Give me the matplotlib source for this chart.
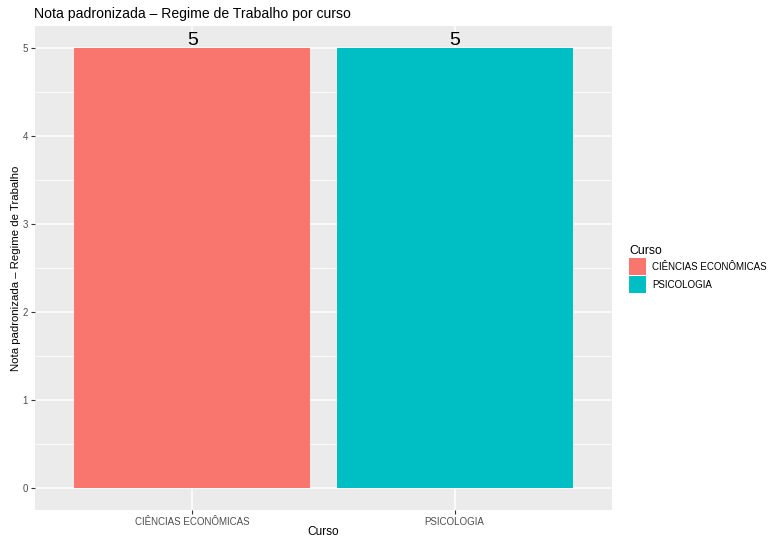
import matplotlib
matplotlib.use("Agg")
import matplotlib.pyplot as plt
from matplotlib.patches import Patch

plt.rcParams['font.family'] = ['Liberation Sans', 'DejaVu Sans']

cursos = ["CIÊNCIAS ECONÔMICAS", "PSICOLOGIA"]
notas = [5, 5]
cores = ["#F8766D", "#00BFC4"]
yticks = [0, 1, 2, 3, 4, 5]

fig = plt.figure(figsize=(7.71, 5.37), dpi=100)
ax = fig.add_axes([35 / 771, 27 / 537, 577 / 771, 484 / 537])
ax.set_facecolor("#EBEBEB")

xpos = list(range(1, len(cursos) + 1))
ax.bar(xpos, notas, width=0.9, color=cores, zorder=3)
for x, v in zip(xpos, notas):
    ax.annotate(str(v), (x, v), xytext=(0, -0.5), textcoords="offset points",
                ha="center", va="bottom", fontsize=14, color="black", zorder=4)

ax.set_xlim(0.4, len(cursos) + 0.6)
ax.set_ylim(-0.25, 5.25)
ax.set_xticks(xpos)
ax.set_xticklabels(cursos)
ax.set_yticks(yticks)
ax.set_yticks([y + 0.5 for y in yticks[:-1]], minor=True)
ax.grid(which="major", color="white", linewidth=1.1, zorder=0)
ax.grid(which="minor", axis="y", color="white", linewidth=0.55, zorder=0)
ax.set_axisbelow(True)
for s in ax.spines.values():
    s.set_visible(False)
ax.tick_params(axis="both", which="major", length=3, width=0.8, color="#333333",
               labelsize=7, labelcolor="#4D4D4D", pad=2)
ax.tick_params(axis="both", which="minor", length=0)

ax.set_xlabel("Curso", fontsize=8.6, va="center")
ax.xaxis.set_label_coords(0.5, -22 / 484)
ax.set_ylabel("Nota padronizada – Regime de Trabalho", fontsize=8.2)
ax.yaxis.set_label_coords(-14 / 577, 0.5)
ax.set_title("Nota padronizada – Regime de Trabalho por curso", loc="left",
             fontsize=10.1, pad=6, x=-0.002)

handles = [Patch(facecolor=c, edgecolor="none") for c in cores]
leg = fig.legend(handles, cursos, title="Curso", loc="upper left",
                 bbox_to_anchor=(627 / 771, 1 - 243 / 537), frameon=False,
                 fontsize=7, title_fontsize=8.8, handlelength=1.8,
                 handleheight=2.25, handletextpad=0.55, labelspacing=0.14,
                 borderaxespad=0, borderpad=0.2)
leg._legend_box.align = "left"

fig.savefig("out.png", dpi=100)
